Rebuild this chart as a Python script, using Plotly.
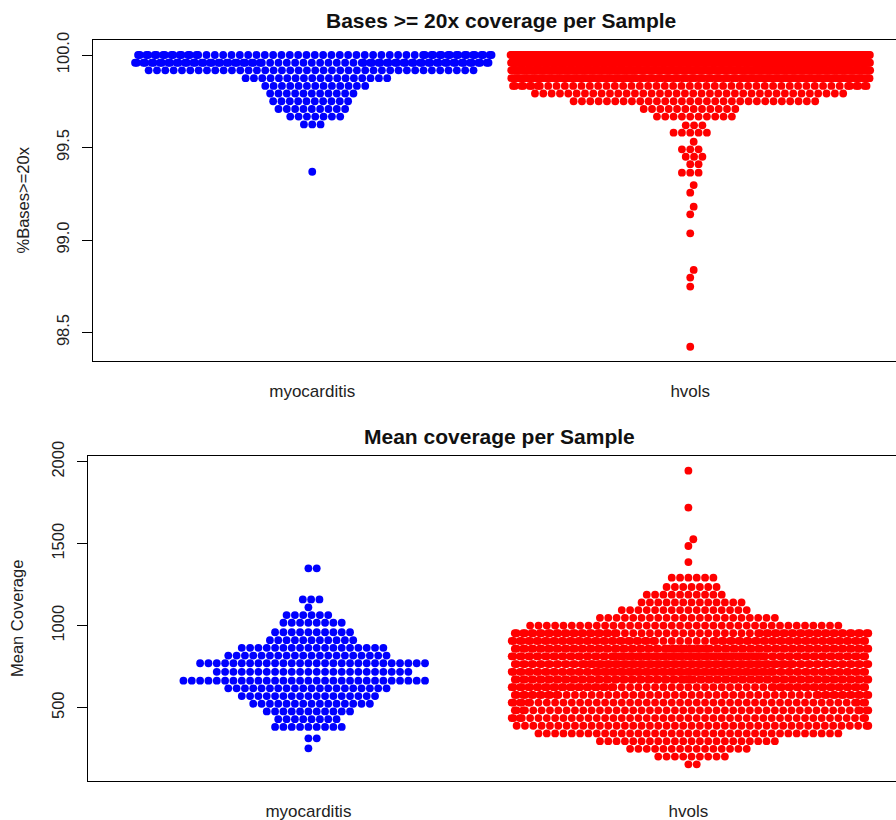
import numpy as np
import plotly.graph_objects as go

# ---------------------------------------------------------------- data
groups = ["myocarditis", "hvols"]

# % of bases with >= 20x coverage: value levels and number of samples at each level
pct_myo_levels = [100.0, 99.958, 99.917, 99.875, 99.833, 99.792, 99.75, 99.708,
                  99.667, 99.625, 99.369]
pct_myo_counts = [60, 75, 40, 18, 13, 11, 10, 9, 7, 3, 1]

pct_hv_levels = [100.0, 99.958, 99.917, 99.875, 99.833, 99.792, 99.75, 99.708,
                 99.667, 99.62, 99.58, 99.531, 99.49, 99.45, 99.41, 99.364,
                 99.297, 99.256, 99.18, 99.139, 99.036, 98.838, 98.797, 98.748,
                 98.423]
pct_hv_counts = [220, 330, 300, 160, 50, 38, 30, 12, 10, 3, 5, 1, 3, 3, 2, 3,
                 1, 1, 1, 1, 1, 1, 1, 1, 1]

# Mean coverage per sample: value levels and number of samples at each level
mean_myo_levels = [1350, 1160, 1112, 1065, 1018, 960, 912, 865, 818, 771, 719,
                   665, 618, 571, 524, 477, 430, 383, 313, 252]
mean_myo_counts = [2, 3, 1, 6, 8, 10, 11, 18, 20, 28, 24, 30, 20, 17, 15, 11, 8,
                   9, 2, 1]

mean_hv_levels = [1945, 1720, 1527, 1486, 1388, 1293, 1236, 1189, 1142, 1095,
                  1048, 1001, 954, 907, 860, 813, 766, 719, 672, 625, 578, 531,
                  484, 437, 390, 343, 296, 249, 202, 155]
mean_hv_counts = [1, 1, 1, 1, 1, 6, 7, 10, 13, 16, 22, 38, 70, 80, 92, 105, 112,
                  108, 88, 68, 56, 48, 47, 46, 44, 37, 22, 15, 9, 2]

pct_ticks = [98.5, 99.0, 99.5, 100.0]
mean_ticks = [500, 1000, 1500, 2000]

# ---------------------------------------------------------------- layout constants
W, H = 896, 820
DOT = 8.33            # distance between touching dot centres (px)
HALF_CORRAL = 180.0   # swarm is wrapped inside +/- this many px

# panel geometry in pixels
TOP = dict(left=93, top=40, bottom=361, x_px=378.0, y_px=185.0,
           yref_val=100.0, yref_px=55.0)
BOT = dict(left=88, top=456, bottom=781, x_px=380.0, y_px=82.0 / 500.0,
           yref_val=500.0, yref_px=707.7)


def expand(levels, counts):
    return np.repeat(np.asarray(levels, float), counts)


def swarm(values, y_px_per_unit):
    """Beeswarm 'swarm' placement (ascending priority), then corral wrap.
    Returns horizontal offsets in pixels."""
    y = np.asarray(values, float) * y_px_per_unit / DOT
    order = np.argsort(y, kind="stable")
    xo = np.zeros(len(y))
    px = np.empty(0)
    py = np.empty(0)
    for i in order:
        yi = y[i]
        m = np.abs(py - yi) < 1.0
        nx, dy = px[m], py[m] - yi
        if nx.size:
            h = np.sqrt(1.0 - dy ** 2)
            cand = np.concatenate(([0.0], nx + h, nx - h))
            cand = cand[np.argsort(np.abs(cand), kind="stable")]
            ok = (((cand[:, None] - nx[None, :]) ** 2 + dy[None, :] ** 2)
                  >= 1 - 1e-7).all(axis=1)
            xi = cand[np.argmax(ok)] if ok.any() else nx.max() + 1.0
        else:
            xi = 0.0
        xo[i] = xi
        px = np.append(px, xi)
        py = np.append(py, yi)
    off = xo * DOT
    off = np.mod(off + HALF_CORRAL, 2 * HALF_CORRAL) - HALF_CORRAL
    return off


def yrange(p):
    v = lambda ypix: p["yref_val"] + (p["yref_px"] - ypix) / p["y_px"]
    return [v(p["bottom"]), v(p["top"])]


def xrange(p):
    return [0.42, 0.42 + (W - p["left"]) / p["x_px"]]


COLORS = ["#0000FF", "#FF0000"]
MSIZE = 7.8

fig = go.Figure()

panels = [
    ("x", "y", TOP, [(pct_myo_levels, pct_myo_counts), (pct_hv_levels, pct_hv_counts)]),
    ("x2", "y2", BOT, [(mean_myo_levels, mean_myo_counts), (mean_hv_levels, mean_hv_counts)]),
]
for xa, ya, p, series in panels:
    for gi, (lv, ct) in enumerate(series):
        vals = expand(lv, ct)
        off = swarm(vals, p["y_px"])
        fig.add_trace(go.Scatter(
            x=(gi + 1) + off / p["x_px"], y=vals, xaxis=xa, yaxis=ya,
            mode="markers", name=groups[gi], hoverinfo="y",
            marker=dict(color=COLORS[gi], size=MSIZE, line=dict(width=0)),
        ))

FONT = "Liberation Sans, Arial, Helvetica, sans-serif"
LINE_W = 1.4

def xaxis_cfg(p):
    return dict(domain=[p["left"] / W, 1.0], range=xrange(p),
                tickvals=[1, 2], ticktext=groups, ticks="",
                ticklabelstandoff=14, automargin=False,
                tickfont=dict(size=17, color="#222222"),
                showgrid=False, zeroline=False, showline=True, mirror=True,
                linecolor="black", linewidth=LINE_W, fixedrange=True)


def yaxis_cfg(p, ticks, text):
    return dict(domain=[1 - p["bottom"] / H, 1 - p["top"] / H], range=yrange(p),
                tickvals=ticks, ticktext=text, ticks="outside", ticklen=10,
                tickwidth=LINE_W, tickcolor="black", tickangle=-90,
                ticklabelstandoff=6, automargin=False,
                tickfont=dict(size=16.5, color="#222222"),
                showgrid=False, zeroline=False, showline=True, mirror=False,
                linecolor="black", linewidth=LINE_W, fixedrange=True)


fig.update_layout(
    width=W, height=H,
    margin=dict(l=0, r=0, t=0, b=0, pad=0, autoexpand=False),
    paper_bgcolor="white", plot_bgcolor="white",
    showlegend=False,
    font=dict(family=FONT, color="#222222"),
    xaxis=dict(anchor="y", **xaxis_cfg(TOP)),
    yaxis=dict(anchor="x", **yaxis_cfg(TOP, pct_ticks, [f"{t:.1f}" for t in pct_ticks])),
    xaxis2=dict(anchor="y2", **xaxis_cfg(BOT)),
    yaxis2=dict(anchor="x2", **yaxis_cfg(BOT, mean_ticks, [str(t) for t in mean_ticks])),
)

annotations = [
    dict(text="<b>Bases >= 20x coverage per Sample</b>", x=501 / W, y=1 - 20 / H,
         font=dict(size=21, color="#111111")),
    dict(text="<b>Mean coverage per Sample</b>", x=499.5 / W, y=1 - 436 / H,
         font=dict(size=21, color="#111111")),
    dict(text="%Bases>=20x", x=22 / W, y=1 - 200.5 / H, textangle=-90,
         font=dict(size=16.5, color="#222222")),
    dict(text="Mean Coverage", x=16.5 / W, y=1 - 618.5 / H, textangle=-90,
         font=dict(size=16.5, color="#222222")),
]
for a in annotations:
    a.update(xref="paper", yref="paper", xanchor="center", yanchor="middle",
             showarrow=False)
fig.update_layout(annotations=annotations)

fig.write_html("out.html")
